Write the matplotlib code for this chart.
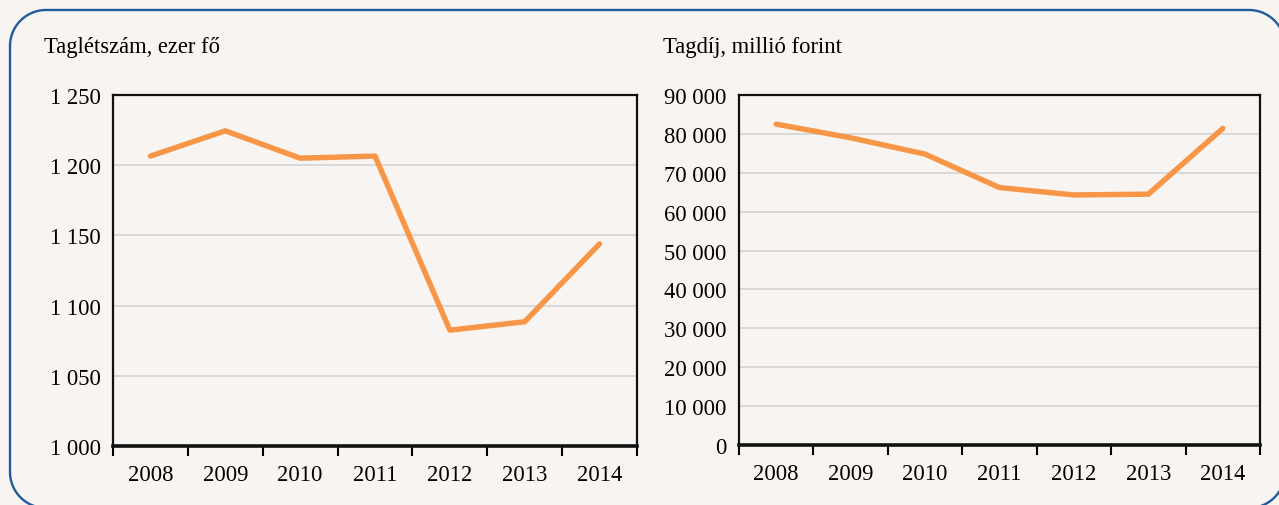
import matplotlib
matplotlib.use("Agg")
import matplotlib.pyplot as plt
import numpy as np

years = ["2008", "2009", "2010", "2011", "2012", "2013", "2014"]
members = [1206.5, 1224.5, 1205, 1206.5, 1082.5, 1088.5, 1144]   # ezer fő
fees = [82500, 79000, 74800, 66200, 64300, 64500, 81400]        # millió forint

left_ticks = [1000, 1050, 1100, 1150, 1200, 1250]
right_ticks = list(range(0, 90001, 10000))

BG = "#F7F4F1"
ORANGE = "#F79646"
GRID = "#D9D9D9"
BLUE = "#1F5C99"
FONT = "Liberation Serif"
FS = 16.3

def fmt(v):
    return f"{int(v):,}".replace(",", " ")

W, H = 1279, 506
fig = plt.figure(figsize=(W / 100, H / 100), dpi=100, facecolor=BG)

# decorative rounded frame, drawn in pixel coordinates (y measured downward)
bax = fig.add_axes([0, 0, 1, 1], zorder=-1)
bax.set_xlim(0, W)
bax.set_ylim(H, 0)
bax.axis("off")
bax.patch.set_alpha(0)
x0, y0, x1, y1, r = 10, 11, 1285, 509, 36

def arc(cx, cy, a0, a1):
    t = np.radians(np.linspace(a0, a1, 40))
    return cx + r * np.cos(t), cy + r * np.sin(t)

pieces = [arc(x0 + r, y1 - r, 90, 180),
          (np.array([x0, x0]), np.array([y1 - r, y0 + r])),
          arc(x0 + r, y0 + r, 180, 270),
          (np.array([x0 + r, x1 - r]), np.array([y0, y0])),
          arc(x1 - r, y0 + r, 270, 360)]
fx = np.concatenate([p[0] for p in pieces])
fy = np.concatenate([p[1] for p in pieces])
bax.plot(fx, fy, color=BLUE, linewidth=1.7, clip_on=False)
bx, by = arc(x1 - r, y1 - r, 0, 90)
bax.plot(bx, by, color=BLUE, linewidth=1.7, clip_on=False)

def make_ax(rect, values, ticks, ylim, title, title_x):
    ax = fig.add_axes(rect)
    ax.set_facecolor(BG)
    x = np.arange(len(years))
    ax.plot(x, values, color=ORANGE, linewidth=3.9, solid_capstyle="round", zorder=3)
    ax.set_xlim(-0.5, len(years) - 0.5)
    ax.set_ylim(*ylim)
    ax.set_yticks(ticks)
    ax.set_yticklabels([fmt(t) for t in ticks], fontfamily=FONT, fontsize=FS)
    ax.set_xticks(x)
    ax.set_xticklabels(years, fontfamily=FONT, fontsize=FS)
    ax.set_xticks(np.arange(-0.5, len(years)), minor=True)
    ax.tick_params(axis="x", which="major", length=0, pad=13)
    ax.tick_params(axis="x", which="minor", length=7, width=1.5, direction="out", color="black")
    ax.tick_params(axis="y", length=0, pad=9)
    ax.yaxis.grid(True, color=GRID, linewidth=1.4)
    ax.set_axisbelow(True)
    for s in ["left", "right", "top"]:
        ax.spines[s].set_linewidth(1.6)
        ax.spines[s].set_color("#111111")
    ax.spines["bottom"].set_linewidth(2.6)
    ax.spines["bottom"].set_color("#111111")
    fig.text(title_x / W, 1 - 47 / H, title, fontfamily=FONT, fontsize=FS,
             ha="left", va="center")
    return ax

make_ax([113 / W, 1 - 447 / H, (637 - 113) / W, 351 / H], members,
        left_ticks, (1000, 1250), "Taglétszám, ezer fő", 44)
make_ax([739 / W, 1 - 446 / H, (1260 - 739) / W, 350 / H], fees,
        right_ticks, (0, 90000), "Tagdíj, millió forint", 663)

fig.savefig("out.png", dpi=100, facecolor=BG)
